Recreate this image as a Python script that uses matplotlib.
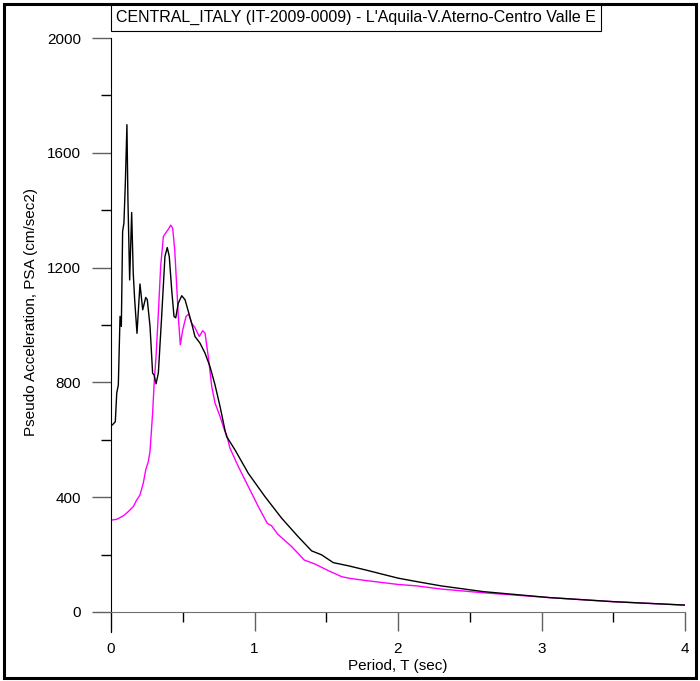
import matplotlib
matplotlib.use("Agg")
import matplotlib.pyplot as plt
from matplotlib.patches import Rectangle
from matplotlib.ticker import MultipleLocator

plt.rcParams['font.family'] = ['Liberation Sans', 'DejaVu Sans']

title = "CENTRAL_ITALY (IT-2009-0009) - L'Aquila-V.Aterno-Centro Valle E"

# black component
t_black = [0.0, 0.01, 0.03, 0.04, 0.051, 0.063, 0.072, 0.081, 0.09, 0.1,
           0.111, 0.118, 0.130, 0.144, 0.155, 0.165, 0.181, 0.202, 0.221, 0.242,
           0.253, 0.272, 0.29, 0.30, 0.314, 0.33, 0.353, 0.376, 0.392, 0.406,
           0.423, 0.439, 0.451, 0.469, 0.493, 0.516, 0.539, 0.562, 0.585, 0.62,
           0.655, 0.69, 0.725, 0.76, 0.794, 0.806, 0.864, 0.957, 1.073, 1.189,
           1.305, 1.398, 1.468, 1.549, 1.654, 1.77, 2.0, 2.13, 2.3, 2.594,
           3.06, 3.5, 4.0]
psa_black = [650, 652, 663, 763, 791, 1030, 995, 1326, 1355, 1495,
             1698, 1436, 1157, 1392, 1180, 1088, 971, 1143, 1053, 1096,
             1088, 995, 832, 826, 795, 833, 1030, 1239, 1270, 1239,
             1122, 1030, 1025, 1076, 1102, 1088, 1047, 1006, 960, 937,
             902, 855, 791, 716, 634, 611, 565, 483, 402, 327,
             262, 213, 199, 172, 161, 147, 118, 106, 91, 71,
             50, 36, 24]

# magenta component
t_mag = [0.0, 0.04, 0.086, 0.121, 0.155, 0.179, 0.202, 0.225, 0.242, 0.26,
         0.272, 0.29, 0.302, 0.314, 0.33, 0.346, 0.365, 0.383, 0.4, 0.416,
         0.43, 0.444, 0.458, 0.469, 0.483, 0.5, 0.523, 0.541, 0.562, 0.585,
         0.615, 0.639, 0.655, 0.678, 0.702, 0.725, 0.76, 0.794, 0.806, 0.829,
         0.887, 0.957, 1.027, 1.089, 1.12, 1.162, 1.259, 1.347, 1.422, 1.515,
         1.608, 1.666, 1.77, 2.0, 2.13, 2.3, 2.594, 3.06, 3.5, 4.0]
psa_mag = [320, 323, 335, 350, 367, 390, 408, 449, 495, 524,
           560, 693, 809, 890, 1041, 1204, 1308, 1322, 1334, 1348,
           1337, 1262, 1134, 1030, 931, 983, 1030, 1038, 1006, 991,
           960, 980, 972, 890, 786, 728, 681, 629, 616, 571,
           507, 437, 367, 309, 300, 271, 228, 181, 167, 144,
           123, 117, 110, 96, 91, 80, 67, 50, 36, 24]

W, H = 700, 681
fig = plt.figure(figsize=(W / 100, H / 100), dpi=100)
ax = fig.add_axes([111 / W, (H - 632) / H, 574 / W, 594 / H])

ax.plot(t_mag, psa_mag, color='#ff00ff', lw=1.0)
ax.plot(t_black, psa_black, color='black', lw=1.0)

ax.set_xlim(0, 4)
ax.set_ylim(-69.7, 2000)

# axis styling
for s in ['top', 'right']:
    ax.spines[s].set_visible(False)
ax.spines['bottom'].set_position(('data', 0))
ax.spines['bottom'].set_color('#707070')
ax.spines['left'].set_color('black')

ax.xaxis.set_major_locator(MultipleLocator(1))
ax.xaxis.set_minor_locator(MultipleLocator(0.5))
ax.yaxis.set_major_locator(MultipleLocator(400))
ax.yaxis.set_minor_locator(MultipleLocator(200))
ax.tick_params(which='major', direction='out', length=14, width=1,
               color='#606060', labelsize=11, pad=7.5)
ax.tick_params(which='minor', direction='out', length=7, width=1, color='black')

fig.text(398 / W, 1 - 666 / H, "Period, T (sec)", ha='center', va='center', fontsize=11)
fig.text(31 / W, 1 - 312 / H, "Pseudo Acceleration, PSA (cm/sec2)", rotation=90,
         ha='center', va='center', fontsize=11)

# outer frame and title box
fig.patches.append(Rectangle((4 / W, 1 - 678 / H), 692 / W, 674 / H,
                             transform=fig.transFigure, fill=False, lw=2.2, ec='black'))
fig.patches.append(Rectangle((111 / W, 1 - 31 / H), 490 / W, 27 / H,
                             transform=fig.transFigure, fill=False, lw=0.8, ec='black'))
fig.text(116 / W, 1 - 17.5 / H, title, ha='left', va='center', fontsize=11.5)

fig.savefig('out.png', dpi=100)
